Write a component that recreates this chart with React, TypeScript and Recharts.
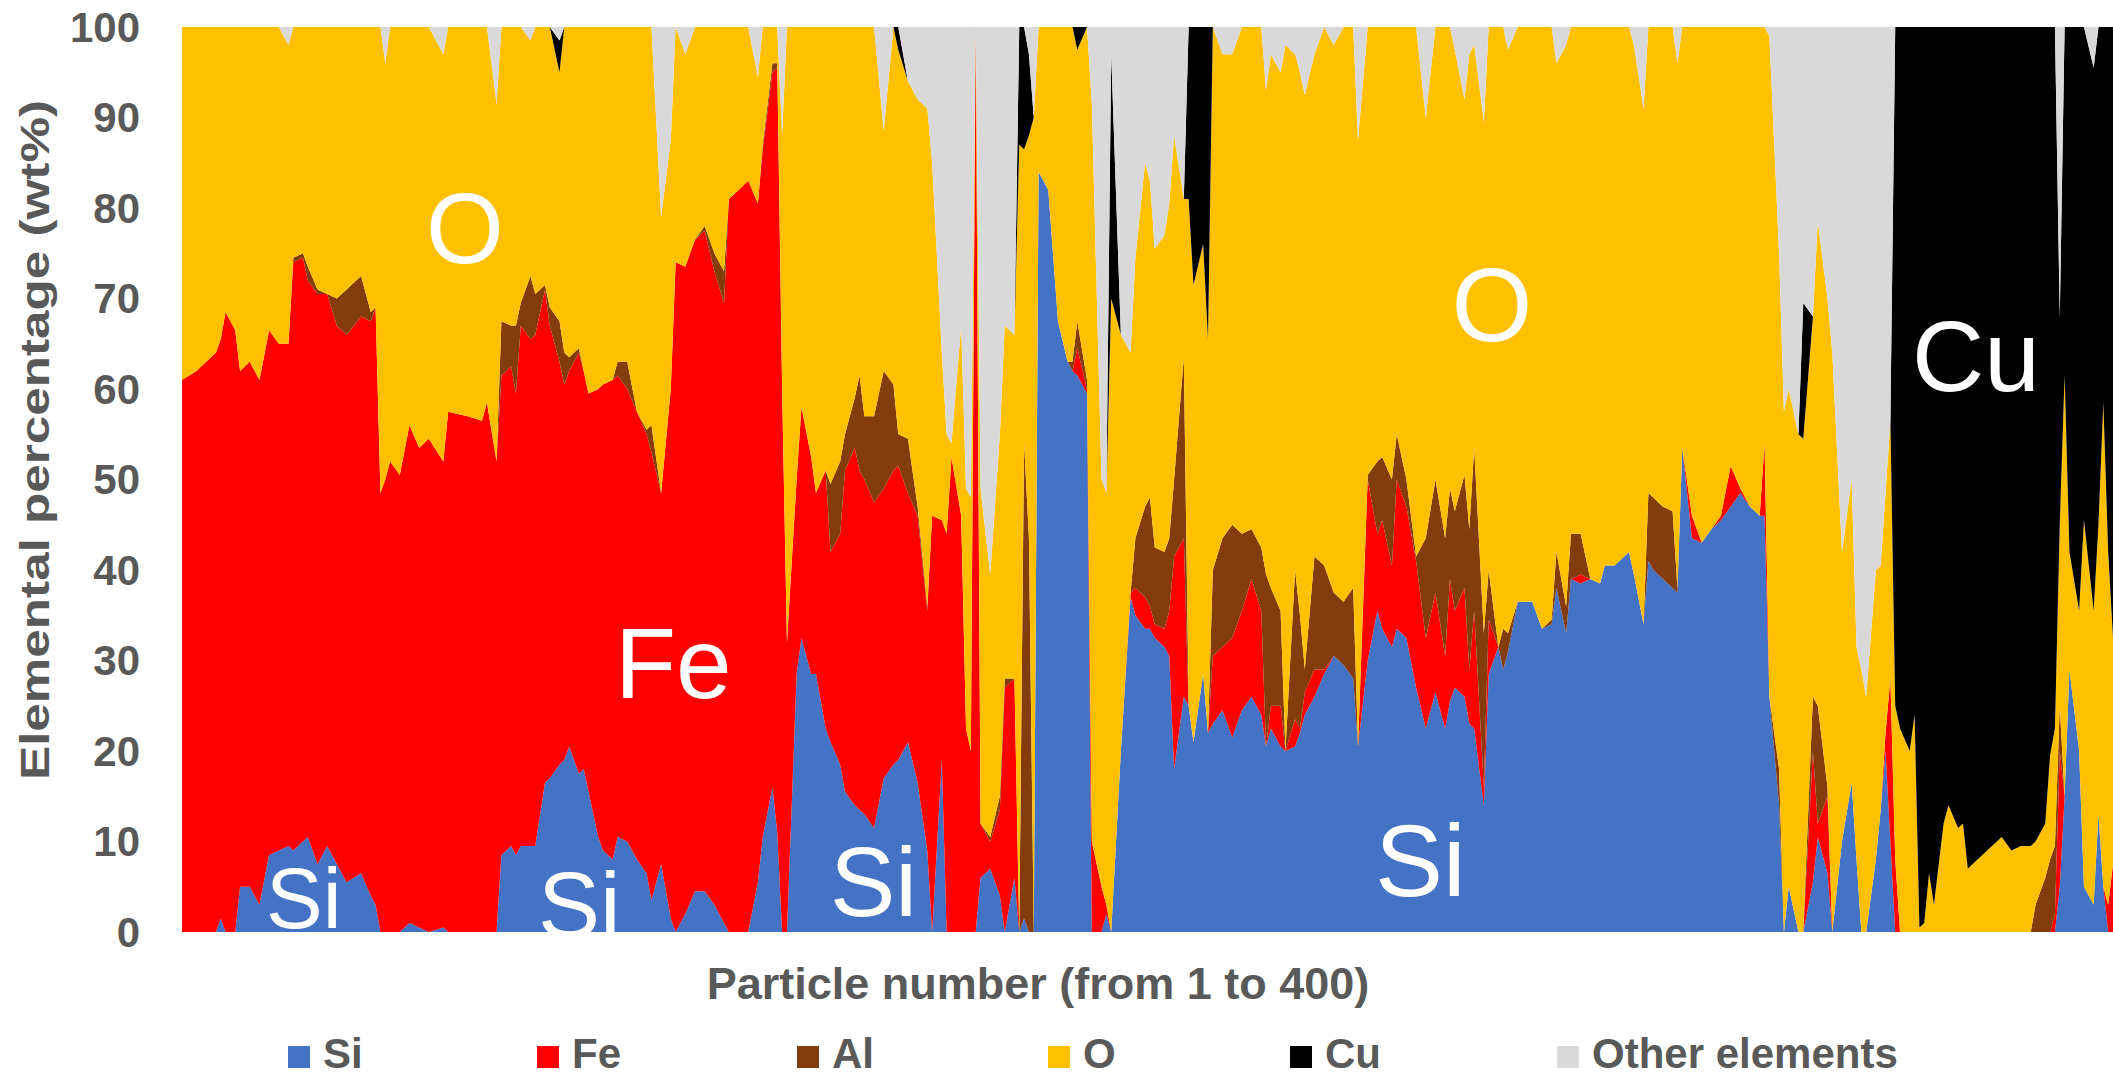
import React from 'react';
import { AreaChart, Area, XAxis, YAxis } from 'recharts';

const W = 2113;
const H = 1079;
const FONT = '"Liberation Sans", Arial, Helvetica, sans-serif';
const AXIS_GREY = '#595959';

// particle numbers that were sampled off the picture (1..400)
const particle = [
  1, 4, 6, 8, 9, 10, 12, 13, 15, 17,
  19, 21, 23, 24, 26, 27, 29, 31, 33, 35,
  38, 40, 41, 42, 43, 44, 46, 48, 50, 52,
  55, 56, 60, 63, 64, 66, 67, 69, 70, 71,
  73, 74, 76, 77, 79, 80, 81, 83, 84, 85,
  87, 88, 90, 91, 93, 95, 97, 98, 100, 102,
  103, 105, 107, 109, 111, 113, 114, 116, 118, 120,
  121, 123, 124, 125, 126, 128, 129, 131, 132, 134,
  135, 137, 138, 140, 141, 142, 144, 146, 148, 149,
  151, 153, 155, 156, 158, 159, 160, 162, 163, 164,
  165, 166, 168, 170, 171, 173, 174, 175, 176, 177,
  178, 180, 182, 184, 185, 186, 188, 189, 191, 192,
  193, 195, 197, 198, 200, 201, 202, 204, 205, 206,
  208, 209, 210, 212, 213, 214, 216, 218, 220, 222,
  224, 225, 226, 228, 229, 231, 232, 233, 235, 237,
  239, 241, 243, 244, 246, 248, 249, 251, 252, 254,
  256, 258, 260, 262, 263, 264, 266, 267, 268, 270,
  271, 273, 274, 275, 277, 280, 282, 284, 285, 287,
  288, 290, 292, 294, 295, 297, 300, 301, 303, 304,
  305, 307, 309, 310, 311, 313, 315, 317, 319, 321,
  323, 325, 327, 328, 329, 331, 332, 333, 335, 336,
  338, 339, 341, 342, 344, 346, 347, 348, 349, 351,
  352, 353, 354, 355, 356, 358, 359, 360, 361, 362,
  363, 365, 366, 368, 369, 370, 372, 375, 377, 379,
  381, 383, 384, 386, 387, 388, 389, 390, 391, 393,
  394, 396, 397, 398, 399, 400,
];

// wt% per element
const si = [
  0, 0, 0, 0, 1.5, 0, 0, 5, 5, 3,
  8.5, 9, 9.5, 9, 10, 10.5, 7.5, 9.5, 7.5, 5.5,
  6.5, 4, 3, 0, 0, 0, 0, 1, 0.5, 0,
  0.5, 0, 0, 0, 0, 0, 8.5, 9.5, 8.5, 9.5,
  9.5, 9.5, 16.5, 17, 18.5, 19, 20.5, 17.5, 18, 15.5,
  10.5, 9, 8, 10.5, 10, 8, 6.5, 3.5, 7.5, 1.5,
  0, 2, 4.5, 4.5, 3, 1, 0, 0, 0, 5.5,
  10.5, 16, 11, 0, 0, 28.5, 32.5, 28.5, 28.5, 22.5,
  21, 18.5, 15.5, 14, 13.5, 13, 11.5, 17, 18.5, 19,
  21, 16.5, 9, 0, 19, 0, 0, 0, 0, 0,
  0, 6, 7, 4, 0, 6, 0, 1.5, 0, 0,
  84, 82, 67.5, 63, 62, 61.5, 59.5, 0, 0, 2,
  0, 20, 37, 35, 33.5, 33.5, 32.5, 31.5, 30.5, 18,
  26, 25, 21, 28.5, 22, 23, 24.5, 21.5, 24.5, 26,
  24, 20.5, 22.5, 20.5, 20, 20.5, 22, 24, 26, 28.5,
  30.5, 29.5, 28, 20.5, 30, 35.5, 33.5, 31.5, 33.5, 32.5,
  27, 22.5, 26.5, 22.5, 25.5, 27, 26, 23, 22.5, 14,
  28.5, 31.5, 29, 31, 36.5, 36.5, 33.5, 34, 38, 33,
  39, 38.5, 39, 38.5, 40.5, 40.5, 42, 39.5, 34, 41,
  40, 39, 38, 37.5, 53.5, 43.5, 43, 44.5, 45.5, 47,
  48.5, 47, 46, 46, 26, 14, 0, 5, 0, 0,
  5.5, 10.5, 6.5, 0, 10, 16.5, 8, 0, 0, 8,
  13.5, 20, 10, 0, 0, 0, 0, 0, 0, 0,
  0, 0, 0, 0, 0, 0, 0, 0, 0, 0,
  0, 0, 0, 0, 0, 0, 5, 15, 29, 20,
  5, 3, 13, 5, 0, 0,
];

const fe = [
  61, 62, 63, 64, 64, 68.5, 66.5, 57, 58, 58,
  58, 56, 55.5, 65, 64.5, 61.5, 63, 61, 59.5, 60.5,
  61.5, 63.5, 66, 48.5, 50, 52, 50.5, 55, 53, 54.5,
  51.5, 57.5, 57, 56.5, 58.5, 52, 53, 53, 51, 57.5,
  56, 56.5, 54.5, 50, 44.5, 41.5, 41.5, 46.5, 44, 44,
  49.5, 51.5, 53, 51, 50, 49.5, 48.5, 49.5, 41, 58.5,
  74, 71.5, 72, 73, 70, 68.5, 81, 82, 83, 75,
  76, 79, 84.5, 60, 32, 21.5, 25.5, 24, 20, 28.5,
  21, 25.5, 35.5, 39.5, 37.5, 37, 36, 32, 32.5, 32.5,
  27.5, 29.5, 26.5, 46, 26.5, 44, 52.5, 46, 22.5, 20,
  100, 6, 3, 9.5, 27, 22, 0, 0, 0, 0,
  0, 0, 0, 0, 0, 3, 0.5, 10, 5, 1,
  0, 0, 0.5, 3, 3.5, 2.5, 1.5, 2, 5, 23.5,
  17.5, 0, 0, 0, 0, 7.5, 7, 11, 11, 13,
  11.5, 0, 2.5, 4.5, 0, 3, 0.5, 2.5, 3, 0.5,
  0, 0, 0, 0, 20, 8.5, 12, 9, 16.5, 14.5,
  14, 10, 11, 8, 13.5, 8.5, 12, 6, 13, 2,
  6, 0, 0, 0, 0, 0, 0, 0, 0, 0,
  0, 1, 0, 0, 0, 0, 0, 0, 0, 0,
  0, 0, 0, 0, 0, 2.5, 0, 0, 0.5, 4.5,
  0.5, 0, 0, 8, 0, 0, 0, 0, 0, 0,
  14.5, 1.5, 8.5, 0, 0, 0, 0, 0, 0, 0,
  0, 2, 18, 8, 0, 0, 0, 0, 0, 0,
  0, 0, 0, 0, 0, 0, 0, 0, 0, 0,
  0, 0, 0, 0, 0, 2, 15, 0, 0, 0,
  0, 0, 0, 0, 3, 7.5,
];

const al = [
  0, 0, 0, 0, 0, 0, 0, 0, 0, 0,
  0, 0, 0, 0.5, 0.5, 1.5, 0.5, 0, 3, 5,
  4.5, 1, 0, 0, 0, 0, 0, 0, 0, 0,
  0, 0, 0, 0, 0, 0, 6, 4.5, 7.5, 2.5,
  7, 4.5, 0.5, 2, 4.5, 3.5, 1.5, 0.5, 0, 0,
  0, 0, 0, 1.5, 3, 0, 0.5, 3, 0, 0,
  0, 0, 0, 0.5, 2, 3.5, 0, 0, 0, 0,
  0.5, 1, 0.5, 0, 0, 0, 0, 0, 0, 0,
  7.5, 8, 4, 5.5, 10.5, 7, 9.5, 13, 9.5, 3.5,
  6, 1, 0.5, 0, 0, 0, 0, 0, 0, 0,
  0, 0, 0.5, 1.5, 1, 0, 0, 52.5, 43.5, 0,
  0, 0, 0, 0, 1, 3, 1, 0, 0, 0,
  0, 0, 0, 5.5, 10, 12, 8.5, 8.5, 8, 8.5,
  20, 0, 0, 0, 0, 9.5, 12, 12.5, 8.5, 5.5,
  7, 19, 13, 10.5, 0, 16.5, 12.5, 2.5, 12.5, 11.5,
  7, 7, 10, 0, 0.5, 8, 7, 9.5, 5, 3,
  0.5, 11, 12.5, 13, 10, 11, 12.5, 15.5, 18, 17,
  5.5, 0, 4.5, 2, 0, 0, 0, 0.5, 4, 3,
  5, 4.5, 0, 0, 0, 0, 0, 0, 0, 7.5,
  8, 8, 8.5, 0.5, 0, 0, 0, 0, 0, 0,
  0, 0, 0, 0, 0, 4, 0, 0, 0, 0,
  6, 13, 1, 0, 0, 0, 0, 0, 0, 0,
  0, 0, 0, 0, 0, 0, 0, 0, 0, 0,
  0, 0, 0, 0, 0, 0, 0, 0, 0, 0,
  0, 0, 3, 6, 8, 7.5, 5, 0, 0, 0,
  0, 0, 0, 0, 0, 0,
];

const o = [
  39, 38, 37, 36, 34.5, 31.5, 33.5, 38, 37, 39,
  33.5, 35, 33, 25.5, 25, 26.5, 29, 29.5, 30, 29,
  27.5, 31.5, 31, 51.5, 46, 48, 49.5, 44, 46.5, 45.5,
  45, 42.5, 43, 43.5, 41.5, 39.5, 32.5, 33, 33, 30.5,
  26, 29.5, 28.5, 31, 27.5, 36, 36.5, 35.5, 38, 40.5,
  40, 39.5, 39, 37, 37, 42.5, 44.5, 44, 30.5, 27.5,
  26, 23.5, 23.5, 22, 25, 27, 19, 18, 17, 14,
  13, 4, 4, 28, 68, 50, 42, 47.5, 51.5, 49,
  50.5, 48, 45, 41, 38.5, 43, 43, 26.5, 39.5, 42.5,
  39.5, 45, 55, 39, 18.5, 11, 1.5, 21, 26.5, 28,
  0, 37, 29, 40, 39, 38, 87, 32.5, 44.5, 90,
  16, 18, 32.5, 37, 37, 30, 39, 81.5, 45, 45.5,
  70, 46, 26.5, 31, 38, 35, 33, 35, 37, 38,
  17.5, 56, 50.5, 47.5, 43.5, 60, 53.5, 52, 56, 55.5,
  57.5, 53.5, 59, 59.5, 78, 57, 60, 63.5, 55.5, 59.5,
  60.5, 63.5, 62, 67, 49.5, 48, 47.5, 50, 45, 50,
  58.5, 46.5, 50, 56.5, 51, 51, 41.5, 52.5, 44.5, 56.5,
  60, 68.5, 66.5, 64.5, 63.5, 63.5, 66.5, 65.5, 54, 62,
  56, 56, 61, 61.5, 59.5, 59.5, 58, 58.5, 57, 51.5,
  52, 53, 53.5, 58, 46.5, 54, 57, 55.5, 54, 48.5,
  51, 53, 54, 46, 73, 57, 57.5, 55, 55, 54.5,
  42, 53.5, 54, 64, 32, 33.5, 23.5, 29, 26, 32,
  27, 26.5, 28.5, 17, 22.5, 20, 24, 0.5, 1, 6.5,
  3, 12, 14, 11.5, 12, 7, 8, 9.5, 10.5, 9,
  9.5, 9.5, 7, 6, 11.5, 13, 20, 46.5, 13, 15.5,
  40.5, 32.5, 32, 53.5, 39, 25,
];

const cu = [
  0, 0, 0, 0, 0, 0, 0, 0, 0, 0,
  0, 0, 0, 0, 0, 0, 0, 0, 0, 0,
  0, 0, 0, 0, 0, 0, 0, 0, 0, 0,
  0, 0, 0, 0, 0, 0, 0, 0, 0, 0,
  0, 0, 0, 0, 3.5, 0, 0, 0, 0, 0,
  0, 0, 0, 0, 0, 0, 0, 0, 0, 0,
  0, 0, 0, 0, 0, 0, 0, 0, 0, 0,
  0, 0, 0, 0, 0, 0, 0, 0, 0, 0,
  0, 0, 0, 0, 0, 0, 0, 0, 0, 2.5,
  0, 0, 0, 0, 0, 0, 0, 0, 0, 0,
  0, 0, 0, 0, 0, 0, 13, 13.5, 9, 0,
  0, 0, 0, 0, 0, 2.5, 0, 0, 0, 0,
  27, 0, 0, 0, 0, 0, 0, 0, 0, 0,
  0, 19, 28.5, 24, 34.5, 0, 0, 0, 0, 0,
  0, 0, 0, 0, 0, 0, 0, 0, 0, 0,
  0, 0, 0, 0, 0, 0, 0, 0, 0, 0,
  0, 0, 0, 0, 0, 0, 0, 0, 0, 0,
  0, 0, 0, 0, 0, 0, 0, 0, 0, 0,
  0, 0, 0, 0, 0, 0, 0, 0, 0, 0,
  0, 0, 0, 0, 0, 0, 0, 0, 0, 0,
  0, 0, 0, 0, 0, 0, 0, 0, 0, 15,
  0, 0, 0, 0, 0, 0, 0, 0, 0, 0,
  0, 0, 0, 75, 77.5, 80, 76, 99.5, 99, 93.5,
  97, 88, 86, 88.5, 88, 93, 92, 90.5, 89.5, 91,
  90.5, 90.5, 90, 88, 80.5, 77.5, 23, 38.5, 58, 64.5,
  54.5, 60, 55, 41.5, 58, 67.5,
];

const other = [
  0, 0, 0, 0, 0, 0, 0, 0, 0, 0,
  0, 0, 2, 0, 0, 0, 0, 0, 0, 0,
  0, 0, 0, 0, 4, 0, 0, 0, 0, 0,
  3, 0, 0, 0, 0, 8.5, 0, 0, 0, 0,
  1.5, 0, 0, 0, 1.5, 0, 0, 0, 0, 0,
  0, 0, 0, 0, 0, 0, 0, 0, 21, 12.5,
  0, 3, 0, 0, 0, 0, 0, 0, 0, 5.5,
  0, 0, 0, 12, 0, 0, 0, 0, 0, 0,
  0, 0, 0, 0, 0, 0, 0, 11.5, 0, 0,
  6, 8, 9, 15, 36, 45, 46, 33, 51, 52,
  0, 51, 60.5, 45, 33, 34, 0, 0, 3, 10,
  0, 0, 0, 0, 0, 0, 0, 8.5, 50, 51.5,
  3, 34, 36, 25.5, 15, 17, 24.5, 23, 19.5, 12,
  19, 0, 0, 0, 0, 0, 3, 3, 0, 0,
  0, 7, 3, 5, 2, 3, 5, 7.5, 3, 0,
  2, 0, 0, 12.5, 0, 0, 0, 0, 0, 0,
  0, 10, 0, 0, 0, 2.5, 8, 3, 2, 10.5,
  0, 0, 0, 2.5, 0, 0, 0, 0, 4, 2,
  0, 0, 0, 0, 0, 0, 0, 2, 9, 0,
  0, 0, 0, 4, 0, 0, 0, 0, 0, 0,
  0, 0, 0, 0, 1, 25, 42.5, 40, 45, 30.5,
  32, 21.5, 30, 36, 58, 50, 68.5, 71, 74, 60,
  59.5, 51.5, 43.5, 0, 0, 0, 0, 0, 0, 0,
  0, 0, 0, 0, 0, 0, 0, 0, 0, 0,
  0, 0, 0, 0, 0, 0, 32, 0, 0, 0,
  0, 4.5, 0, 0, 0, 0,
];

const yTicks = [0, 10, 20, 30, 40, 50, 60, 70, 80, 90, 100];

const elements = [
  { key: 'si', name: 'Si', color: '#4472C4', values: si },
  { key: 'fe', name: 'Fe', color: '#FF0000', values: fe },
  { key: 'al', name: 'Al', color: '#843C0C', values: al },
  { key: 'o', name: 'O', color: '#FFC000', values: o },
  { key: 'cu', name: 'Cu', color: '#000000', values: cu },
  { key: 'other', name: 'Other elements', color: '#D9D9D9', values: other },
];

const data = particle.map((p, i) => {
  const row: Record<string, number> = { p };
  elements.forEach((el) => {
    row[el.key] = el.values[i];
  });
  return row;
});

// where each legend square starts
const legendX = [288, 537, 797, 1048, 1290, 1557];

// big white element names painted over the areas
const areaLabels = [
  { text: 'O', x: 465, y: 263, size: 100, anchor: 'middle' },
  { text: 'Fe', x: 615, y: 698, size: 100, anchor: 'start' },
  { text: 'Si', x: 266, y: 928, size: 85, anchor: 'start' },
  { text: 'Si', x: 538, y: 937, size: 93, anchor: 'start' },
  { text: 'Si', x: 830, y: 916, size: 98, anchor: 'start' },
  { text: 'Si', x: 1375, y: 896, size: 102, anchor: 'start' },
  { text: 'O', x: 1492, y: 341, size: 104, anchor: 'middle' },
  { text: 'Cu', x: 1912, y: 391, size: 100, anchor: 'start' },
];

const App: React.FC = () => {
  return (
    <div style={{ position: 'absolute', left: 0, top: 0, width: W, height: H, background: '#fff', fontFamily: FONT }}>
      <AreaChart
        width={W}
        height={H}
        data={data}
        margin={{ top: 27, right: 0, bottom: 147, left: 62 }}
      >
        <XAxis type="number" dataKey="p" domain={[1, 400]} hide />
        <YAxis
          type="number"
          domain={[0, 100]}
          ticks={yTicks}
          interval={0}
          width={120}
          axisLine={false}
          tickLine={false}
          tickSize={0}
          tickMargin={42}
          tick={{ fill: AXIS_GREY, fontSize: 42, fontWeight: 'bold', fontFamily: FONT }}
        />
        {elements.map((el) => (
          <Area
            key={el.key}
            type="linear"
            dataKey={el.key}
            name={el.name}
            stackId="1"
            stroke="none"
            fill={el.color}
            fillOpacity={1}
            dot={false}
            activeDot={false}
            isAnimationActive={false}
          />
        ))}
      </AreaChart>

      <svg
        width={W}
        height={H}
        style={{ position: 'absolute', left: 0, top: 0, pointerEvents: 'none' }}
      >
        {areaLabels.map((l, i) => (
          <text
            key={i}
            x={l.x}
            y={l.y}
            fill="#ffffff"
            fontSize={l.size}
            fontFamily={FONT}
            textAnchor={l.anchor as 'start' | 'middle'}
          >
            {l.text}
          </text>
        ))}

        <text
          transform="translate(49,440) rotate(-90)"
          textAnchor="middle"
          fill={AXIS_GREY}
          fontSize={40}
          fontWeight="bold"
          fontFamily={FONT}
          textLength={680}
          lengthAdjust="spacingAndGlyphs"
        >
          Elemental percentage (wt%)
        </text>

        <text
          x={1038}
          y={999}
          textAnchor="middle"
          fill={AXIS_GREY}
          fontSize={45}
          fontWeight="bold"
          fontFamily={FONT}
        >
          Particle number (from 1 to 400)
        </text>

        {elements.map((el, i) => (
          <g key={el.key}>
            <rect x={legendX[i]} y={1046} width={22} height={22} fill={el.color} />
            <text
              x={legendX[i] + 35}
              y={1068}
              fill={AXIS_GREY}
              fontSize={42}
              fontWeight="bold"
              fontFamily={FONT}
            >
              {el.name}
            </text>
          </g>
        ))}
      </svg>
    </div>
  );
};

export default App;
